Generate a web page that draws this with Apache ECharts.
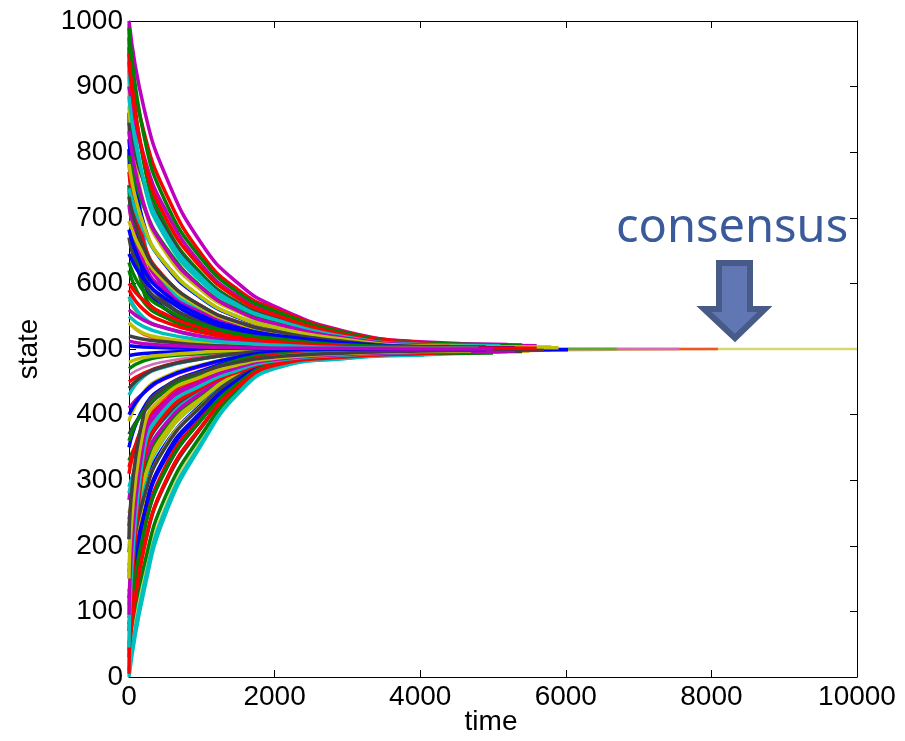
<!DOCTYPE html>
<html>
<head>
<meta charset="utf-8">
<script src="https://cdn.jsdelivr.net/npm/echarts@6/dist/echarts.min.js"></script>
<style>html,body{margin:0;padding:0;background:#fff;}#c{width:905px;height:741px;}</style>
</head>
<body>
<div id="c"></div>
<script>
// sample times (shared by all lines)
const times = [0, 200, 500, 1000, 1500, 2000, 3000, 4000, 5000, 6000, 8000];

// lines starting above the consensus value
const upperLines = [
  [1000, 870, 765, 660, 600, 565, 526, 511],
  [975, 785, 690, 614, 571, 548, 520, 508],
  [950, 833, 739, 644, 590, 561, 525, 510],
  [925, 755, 670, 602, 564, 543, 518, 507],
  [900, 796, 712, 628, 580, 554, 522, 509],
  [870, 722, 648, 589, 556, 537, 516, 506],
  [845, 755, 683, 610, 569, 547, 519, 508],
  [820, 692, 628, 577, 548, 532, 513, 505],
  [795, 718, 656, 594, 559, 540, 516, 506],
  [770, 662, 608, 565, 541, 527, 511, 505],
  [745, 681, 630, 578, 549, 533, 513, 505],
  [720, 632, 588, 553, 533, 522, 509, 504],
  [695, 644, 603, 562, 539, 526, 511, 504],
  [670, 602, 568, 541, 526, 517, 507, 503],
  [645, 607, 577, 546, 529, 520, 508, 503],
  [620, 572, 548, 529, 518, 512, 505, 502],
  [600, 574, 553, 532, 520, 514, 506, 502],
  [580, 548, 532, 519, 512, 508, 503, 501],
  [560, 544, 532, 519, 512, 508, 503, 501],
  [540, 524, 516, 510, 506, 504, 502, 501],
  [520, 515, 511, 506, 504, 503, 501, 500],
  [505, 503, 502, 501, 501, 500, 500, 500],
  [990, 828, 725, 637, 586, 558, 524, 509],
  [938, 793, 701, 623, 577, 552, 521, 508],
  [885, 758, 677, 608, 567, 545, 518, 507],
  [832, 722, 653, 593, 558, 539, 516, 506],
  [782, 689, 630, 579, 549, 533, 514, 505],
  [732, 655, 607, 565, 541, 527, 511, 504],
  [682, 622, 584, 551, 532, 521, 509, 503],
  [632, 588, 561, 537, 523, 516, 506, 503],
  [590, 560, 541, 525, 516, 511, 504, 502],
  [550, 534, 523, 514, 509, 506, 502, 501],
  [512, 508, 506, 503, 502, 501, 501, 500]
];
const upperEnds = [
  [5200, 507], [4600, 505], [4900, 506], [4300, 505], [5600, 505], [4500, 504], [5000, 505],
  [4200, 504], [5400, 503], [4700, 503], [5100, 503], [4400, 503], [5900, 502], [4800, 502],
  [5300, 502], [4100, 502], [5500, 501], [4600, 501], [5000, 501], [4300, 500], [5700, 500],
  [4900, 500], [5400, 506], [4700, 505], [5100, 505], [4400, 505], [5800, 503], [4900, 503],
  [5300, 502], [4500, 502], [5600, 501], [4800, 501], [5000, 500]
];

// lines starting below the consensus value
const lowerLines = [
  [490, 493, 495, 497, 499, 499, 500, 500],
  [470, 482, 489, 493, 497, 498, 499, 500],
  [450, 463, 475, 486, 493, 497, 499, 499],
  [430, 458, 473, 485, 492, 496, 498, 499],
  [410, 433, 455, 474, 488, 495, 497, 498],
  [390, 434, 458, 476, 488, 494, 497, 498],
  [370, 404, 435, 462, 482, 492, 496, 498],
  [350, 410, 443, 467, 484, 492, 496, 498],
  [330, 374, 415, 451, 477, 490, 495, 497],
  [310, 386, 428, 458, 479, 490, 495, 497],
  [290, 345, 395, 439, 471, 487, 494, 496],
  [270, 362, 413, 449, 475, 488, 494, 497],
  [250, 315, 375, 428, 466, 485, 493, 496],
  [230, 338, 397, 441, 470, 486, 494, 496],
  [210, 285, 355, 416, 461, 483, 492, 495],
  [190, 314, 382, 432, 466, 485, 493, 496],
  [170, 256, 335, 404, 455, 480, 491, 494],
  [150, 290, 367, 423, 462, 482, 492, 495],
  [130, 226, 315, 393, 450, 478, 490, 493],
  [110, 266, 352, 414, 457, 480, 491, 495],
  [90, 197, 295, 381, 444, 475, 489, 493],
  [70, 242, 337, 405, 453, 478, 490, 494],
  [50, 167, 275, 370, 439, 473, 487, 492],
  [30, 218, 321, 397, 448, 476, 489, 493],
  [10, 137, 255, 358, 433, 471, 486, 491],
  [0, 128, 248, 355, 432, 470, 486, 491],
  [480, 487, 491, 495, 498, 499, 499, 500],
  [440, 460, 474, 485, 493, 497, 498, 499],
  [400, 433, 456, 475, 488, 495, 497, 498],
  [360, 406, 438, 464, 483, 492, 496, 498],
  [320, 379, 421, 454, 478, 490, 495, 497],
  [280, 353, 403, 444, 473, 488, 494, 496],
  [240, 326, 386, 434, 468, 486, 493, 496],
  [200, 299, 368, 424, 463, 484, 492, 495],
  [160, 272, 350, 413, 458, 481, 491, 495],
  [120, 245, 333, 403, 453, 479, 490, 494],
  [80, 219, 315, 393, 448, 477, 489, 493],
  [40, 192, 298, 383, 443, 475, 488, 493]
];
const lowerEnds = [
  [4500, 500], [5200, 500], [4200, 499], [5800, 499], [4700, 499], [5100, 499], [4400, 498],
  [6030, 499], [4600, 497], [5300, 498], [4100, 496], [4900, 497], [5500, 497], [4300, 496],
  [5000, 496], [4600, 496], [5200, 496], [4400, 495], [4800, 495], [5100, 496], [4200, 494],
  [4700, 495], [5000, 494], [4500, 494], [4050, 491], [4300, 492], [5500, 500], [4600, 499],
  [5200, 499], [4300, 498], [5700, 498], [4800, 497], [5100, 497], [4400, 496], [5400, 496],
  [4700, 495], [5000, 495], [4200, 494]
];

// fast-converging lines hugging the vertical axis
const fastLines = [
  [995, 673, 599, 559, 540, 525, 512, 506],
  [960, 661, 592, 555, 537, 523, 512, 506],
  [915, 645, 583, 550, 533, 521, 510, 505],
  [860, 626, 572, 543, 529, 518, 509, 504],
  [805, 607, 561, 537, 524, 515, 508, 504],
  [750, 588, 550, 530, 520, 513, 506, 503],
  [5, 327, 401, 441, 465, 480, 490, 494],
  [45, 341, 409, 445, 468, 482, 491, 495],
  [95, 358, 419, 451, 472, 484, 492, 495],
  [150, 378, 430, 458, 476, 486, 493, 496],
  [210, 399, 442, 465, 480, 488, 494, 497]
];
const fastEnds = [
  [5300, 504], [4600, 504], [5000, 503], [4400, 503], [5200, 502], [4800, 502],
  [5100, 496], [4500, 496], [5300, 497], [4700, 497], [4900, 498]
];

// the longest runs, visible as the consensus tail
const tailLines = [
  [20, 150, 262, 365, 437, 471, 487, 492, 496, 498, 500],
  [540, 522, 514, 508, 505, 503, 501, 501, 500, 500],
  [460, 472, 481, 489, 494, 497, 499, 499, 500, 500],
  [575, 545, 532, 520, 513, 509, 504, 502, 501, 500]
];
const tailEnds = [[10000, 500], [8090, 500], [7560, 500], [6700, 500]];

// ---- styles ----
const palette = ['#0000FF', '#008000', '#FF0000', '#00BFBF', '#BF00BF', '#BFBF00', '#404040'];
const tailColors = ['#D6D672', '#F0552A', '#D46CB8', '#5AAA3A'];

function build(rows, ends) {
  return rows.map((row, i) => {
    const pts = row.map((v, j) => [times[j], v]);
    pts.push(ends[i]);
    return pts;
  });
}

const series = [];
build(tailLines, tailEnds).forEach((d, i) => {
  series.push({ type: 'line', data: d, color: tailColors[i], w: 2.5 });
});
const bulk = [].concat(build(lowerLines, lowerEnds), build(fastLines, fastEnds), build(upperLines, upperEnds));
bulk.forEach((d, i) => {
  series.push({ type: 'line', data: d, color: palette[i % palette.length], w: 3.5 });
});
// outermost envelopes
series[4 + 25].color = '#00BFBF';
series[4 + lowerLines.length + fastLines.length].color = '#BF00BF';

series.forEach(s => {
  s.showSymbol = false;
  s.symbol = 'none';
  s.smooth = 0.5;
  s.silent = true;
  s.animation = false;
  s.lineStyle = { width: s.w, color: s.color };
  delete s.w;
  s.xAxisIndex = 0;
  s.yAxisIndex = 0;
});

const font = 'Liberation Sans, Arial, sans-serif';
const plain = v => String(v);
const chart = echarts.init(document.getElementById('c'), null, { renderer: 'canvas' });
chart.setOption({
  animation: false,
  backgroundColor: '#fff',
  grid: { left: 129, right: 48, top: 21, bottom: 64, containLabel: false, outerBoundsMode: 'none' },
  xAxis: [
    {
      type: 'value', min: 0, max: 10000, interval: 2000, position: 'bottom',
      axisLine: { onZero: false, lineStyle: { color: '#000', width: 1 } },
      axisTick: { inside: true, length: 7, lineStyle: { color: '#000' } },
      axisLabel: { fontFamily: font, fontSize: 28, color: '#000', margin: 6, formatter: plain },
      splitLine: { show: false }
    },
    {
      type: 'value', min: 0, max: 10000, interval: 2000, position: 'top',
      axisLine: { onZero: false, lineStyle: { color: '#000', width: 1 } },
      axisTick: { inside: true, length: 7, lineStyle: { color: '#000' } },
      axisLabel: { show: false }, splitLine: { show: false }
    }
  ],
  yAxis: [
    {
      type: 'value', min: 0, max: 1000, interval: 100, position: 'left',
      axisLine: { onZero: false, lineStyle: { color: '#000', width: 1 } },
      axisTick: { inside: true, length: 7, lineStyle: { color: '#000' } },
      axisLabel: { fontFamily: font, fontSize: 28, color: '#000', margin: 6, formatter: plain },
      splitLine: { show: false },
      name: 'state', nameLocation: 'middle', nameGap: 86, nameRotate: 90,
      nameTextStyle: { fontFamily: font, fontSize: 28, color: '#000' }
    },
    {
      type: 'value', min: 0, max: 1000, interval: 100, position: 'right',
      axisLine: { onZero: false, lineStyle: { color: '#000', width: 1 } },
      axisTick: { inside: true, length: 7, lineStyle: { color: '#000' } },
      axisLabel: { show: false }, splitLine: { show: false }
    }
  ],
  series: series,
  graphic: [
    {
      type: 'text', x: 491, y: 722, z: 100,
      style: { text: 'time', fontFamily: font, fontSize: 28, fill: '#000', align: 'center', verticalAlign: 'middle' }
    },
    {
      type: 'text', left: 616, top: 205, z: 100,
      style: { text: 'consensus', fontFamily: 'Noto Sans', fontSize: 47, fill: '#3A5A9A' }
    },
    {
      type: 'polygon', z: 100,
      shape: { points: [[719, 263], [750, 263], [750, 309], [765, 309], [735, 338], [704, 309], [719, 309]] },
      style: { fill: '#6177B4', stroke: '#475A88', lineWidth: 6, lineJoin: 'miter' }
    }
  ]
});
</script>
</body>
</html>
